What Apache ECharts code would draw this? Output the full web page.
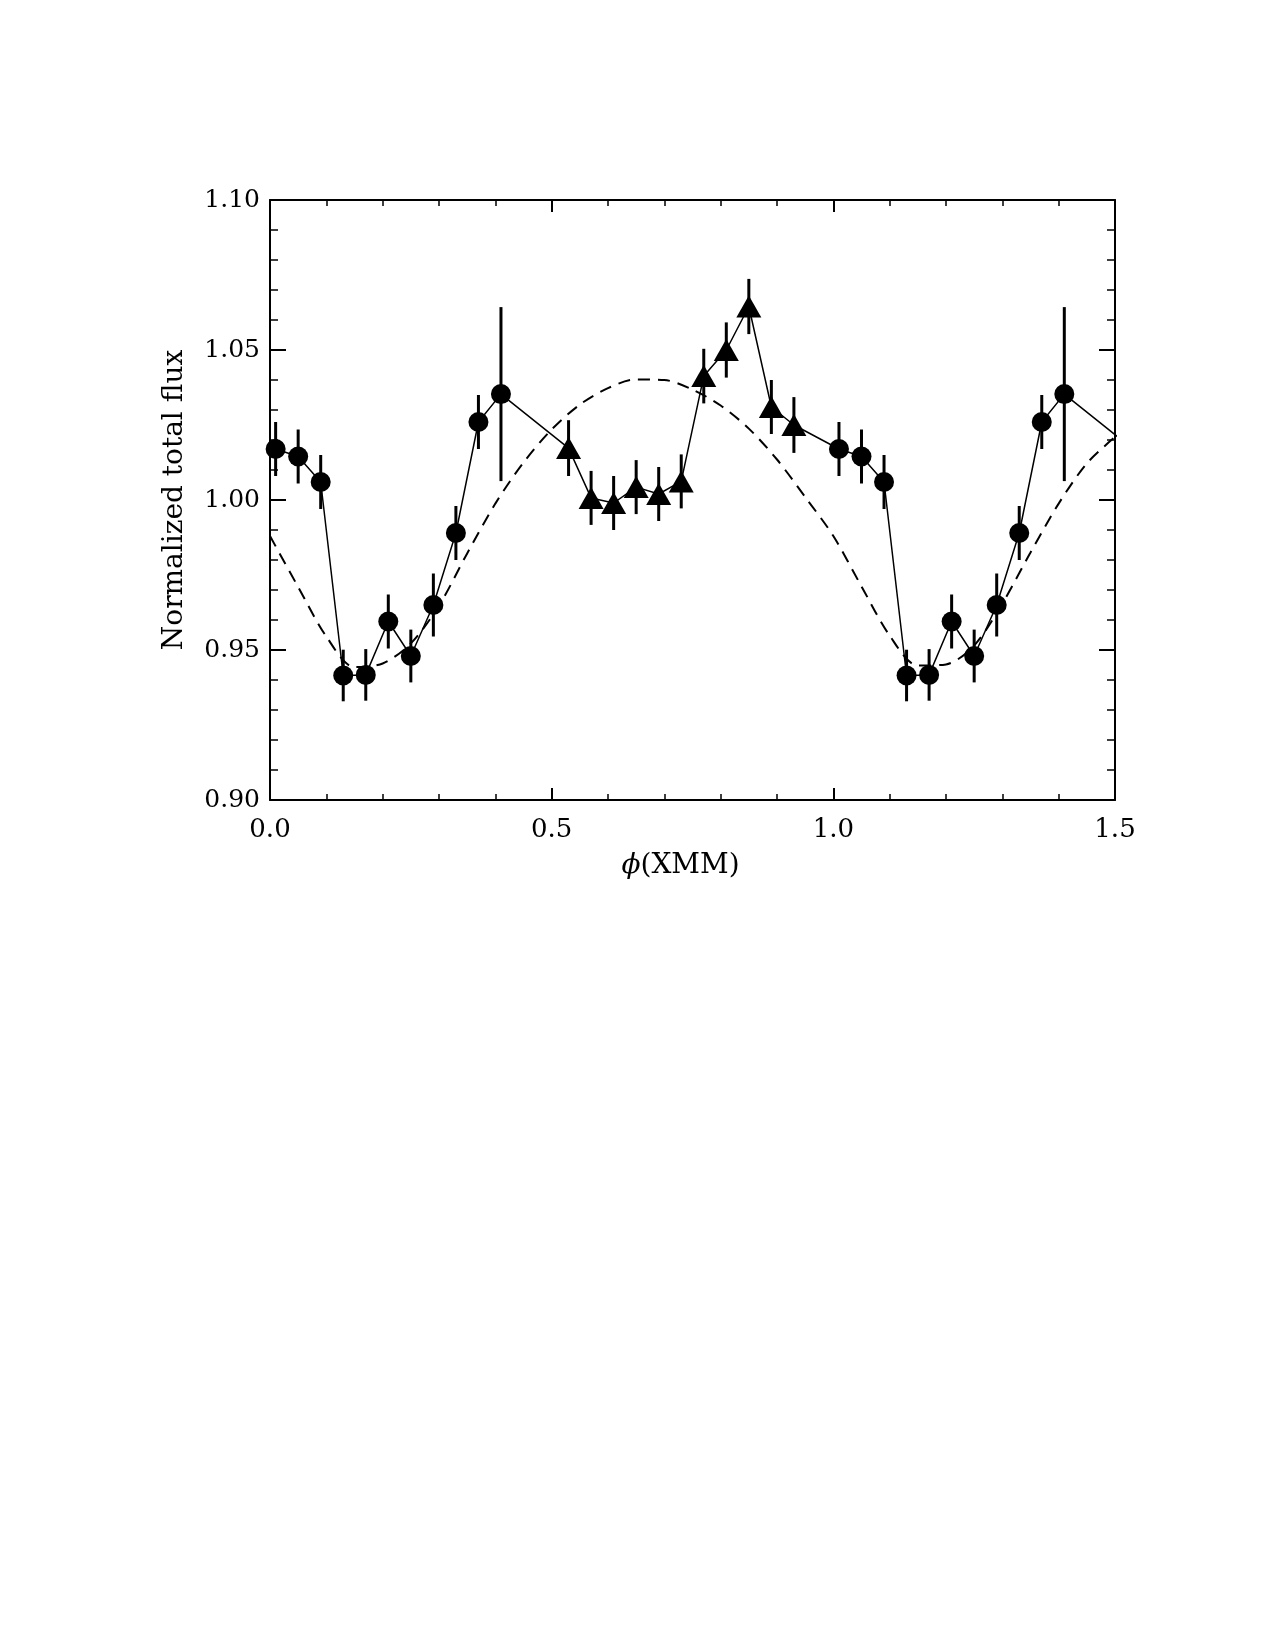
<!DOCTYPE html>
<html>
<head>
<meta charset="utf-8">
<script src="https://cdn.jsdelivr.net/npm/echarts@6/dist/echarts.min.js"></script>
<style>
  html, body { margin: 0; padding: 0; background: #fff; }
  #main { width: 1275px; height: 1650px; }
</style>
</head>
<body>
<div id="main"></div>
<script>
// measured points: circles (first half of the cycle) and triangles (second half)
const phase = [0.01, 0.05, 0.09, 0.13, 0.17, 0.21, 0.25, 0.29, 0.33, 0.37, 0.41,
  0.53, 0.57, 0.61, 0.65, 0.69, 0.73, 0.77, 0.81, 0.85, 0.89, 0.93,
  1.01, 1.05, 1.09, 1.13, 1.17, 1.21, 1.25, 1.29, 1.33, 1.37, 1.41,
  1.53]
const flux = [1.017, 1.0145, 1.006, 0.9415, 0.9417, 0.9595, 0.948, 0.965, 0.989, 1.026, 1.0353,
  1.0173, 1.0007, 0.999, 1.0043, 1.002, 1.0062, 1.0413, 1.05, 1.0645, 1.031, 1.025,
  1.017, 1.0145, 1.006, 0.9415, 0.9417, 0.9595, 0.948, 0.965, 0.989, 1.026, 1.0353,
  1.0173]
const fluxErr = [0.009, 0.009, 0.009, 0.0086, 0.0086, 0.009, 0.0088, 0.0105, 0.009, 0.009, 0.029,
  0.0093, 0.009, 0.009, 0.009, 0.009, 0.009, 0.0091, 0.0092, 0.0092, 0.009, 0.0093,
  0.009, 0.009, 0.009, 0.0086, 0.0086, 0.009, 0.0088, 0.0105, 0.009, 0.009, 0.029,
  0.0093]
const marker = ['c', 'c', 'c', 'c', 'c', 'c', 'c', 'c', 'c', 'c', 'c',
  't', 't', 't', 't', 't', 't', 't', 't', 't', 't', 't',
  'c', 'c', 'c', 'c', 'c', 'c', 'c', 'c', 'c', 'c', 'c',
  't']

// dashed model curve
const modelPhase = [0.00, 0.05, 0.10, 0.15, 0.20, 0.25, 0.30, 0.35, 0.40, 0.45,
  0.50, 0.55, 0.60, 0.65, 0.70, 0.75, 0.80, 0.85, 0.90, 0.95,
  1.00, 1.05, 1.10, 1.15, 1.20, 1.25, 1.30, 1.35, 1.40, 1.45, 1.50]
const modelFlux = [0.988, 0.971, 0.9545, 0.9443, 0.9455, 0.9522, 0.9648, 0.9822, 0.9988, 1.0125,
  1.0235, 1.0318, 1.0373, 1.0402, 1.0400, 1.0368, 1.0315, 1.0238, 1.0135, 1.001,
  0.988, 0.9712, 0.9548, 0.9448, 0.9452, 0.9515, 0.9655, 0.9825, 0.9988, 1.0122, 1.021]

const xTicks = [0.0, 0.5, 1.0, 1.5]
const yTicks = [0.90, 0.95, 1.00, 1.05, 1.10]

const FONT = 'DejaVu Serif'
const X_MIN = xTicks[0], X_MAX = xTicks[xTicks.length - 1]

const pointData = phase.map((p, i) => ({
  value: [p, flux[i]],
  symbol: marker[i] === 'c' ? 'circle' : 'triangle',
  symbolSize: marker[i] === 'c' ? 20 : [25, 22]
}))
const errData = []
phase.forEach((p, i) => {
  if (p >= X_MIN && p <= X_MAX) errData.push([p, flux[i] - fluxErr[i], flux[i] + fluxErr[i]])
})

function makeXAxis(pos) {
  return {
    type: 'value', position: pos, min: X_MIN, max: X_MAX, interval: 0.5,
    axisLine: { show: true, onZero: false, lineStyle: { color: '#000', width: 2 } },
    axisTick: { show: true, inside: true, length: 12, lineStyle: { color: '#000', width: 2 } },
    minorTick: { show: true, splitNumber: 5, length: 6, lineStyle: { color: '#000', width: 1.5 } },
    splitLine: { show: false },
    axisLabel: {
      show: pos === 'bottom', color: '#000', fontFamily: FONT, fontSize: 26, margin: 17,
      formatter: v => v.toFixed(1)
    }
  }
}
function makeYAxis(pos) {
  return {
    type: 'value', position: pos, min: yTicks[0], max: yTicks[yTicks.length - 1], interval: 0.05,
    axisLine: { show: true, onZero: false, lineStyle: { color: '#000', width: 2 } },
    axisTick: { show: true, inside: true, length: 16, lineStyle: { color: '#000', width: 2 } },
    minorTick: { show: true, splitNumber: 5, length: 8, lineStyle: { color: '#000', width: 1.5 } },
    splitLine: { show: false },
    axisLabel: {
      show: pos === 'left', color: '#000', fontFamily: FONT, fontSize: 25, margin: 10,
      formatter: v => v.toFixed(2)
    }
  }
}

const xBottom = makeXAxis('bottom')
xBottom.name = '{i|ϕ}(XMM)'
xBottom.nameLocation = 'middle'
xBottom.nameGap = 52
xBottom.nameTextStyle = {
  color: '#000', fontFamily: FONT, fontSize: 28, padding: [0, 24, 0, 0],
  rich: { i: { fontFamily: FONT, fontSize: 28, fontStyle: 'italic', color: '#000' } }
}
const yLeft = makeYAxis('left')
yLeft.name = 'Normalized total flux'
yLeft.nameLocation = 'middle'
yLeft.nameGap = 81
yLeft.nameTextStyle = { color: '#000', fontFamily: FONT, fontSize: 28 }

const chart = echarts.init(document.getElementById('main'), null, { renderer: 'canvas' })
chart.setOption({
  backgroundColor: '#fff',
  animation: false,
  grid: { left: 270, top: 200, width: 845, height: 600, outerBoundsMode: 'none' },
  xAxis: [xBottom, makeXAxis('top')],
  yAxis: [yLeft, makeYAxis('right')],
  series: [
    {
      type: 'line', name: 'model', xAxisIndex: 0, yAxisIndex: 0,
      data: modelPhase.map((p, i) => [p, modelFlux[i]]),
      symbol: 'none', smooth: 0.3, clip: true,
      lineStyle: { color: '#000', width: 2, type: [12, 8] }
    },
    {
      type: 'custom', name: 'errors', xAxisIndex: 0, yAxisIndex: 0, clip: true,
      data: errData,
      encode: { x: 0, y: [1, 2] },
      renderItem: function (params, api) {
        const lo = api.coord([api.value(0), api.value(1)])
        const hi = api.coord([api.value(0), api.value(2)])
        return {
          type: 'line',
          shape: { x1: lo[0], y1: lo[1], x2: hi[0], y2: hi[1] },
          style: { stroke: '#000', lineWidth: 3 }
        }
      }
    },
    {
      type: 'line', name: 'flux', xAxisIndex: 0, yAxisIndex: 0,
      data: pointData, showAllSymbol: true, clip: true,
      lineStyle: { color: '#000', width: 1.5 },
      itemStyle: { color: '#000', borderWidth: 0 }
    }
  ]
})
</script>
</body>
</html>
